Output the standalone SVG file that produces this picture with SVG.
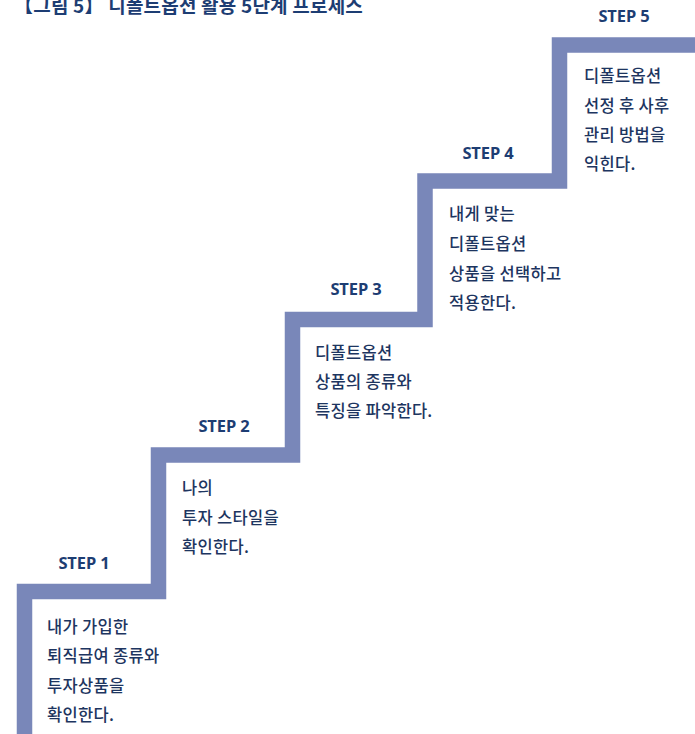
<svg xmlns="http://www.w3.org/2000/svg" width="695" height="734" viewBox="0 0 695 734">
<style>
.title{font-family:"Noto Sans CJK KR","Noto Sans",sans-serif;font-weight:700;font-size:19px;fill:#1d3d73;letter-spacing:0.2px}
.step{font-family:"Noto Sans","Noto Sans CJK KR",sans-serif;font-weight:700;font-size:16.5px;fill:#1d3d73;text-anchor:middle;letter-spacing:-0.1px}
.body{font-family:"Noto Sans CJK KR","Noto Sans",sans-serif;font-weight:500;font-size:16.5px;fill:#1d3560;letter-spacing:0.3px}
.stair{fill:none;stroke:#7987b9;stroke-width:15.5;stroke-linejoin:miter}
</style>
<rect width="695" height="734" fill="#ffffff"/>
<text class="title" x="14" y="13">【그림 5】 디폴트옵션 활용 5단계 프로세스</text>
<g id="connectors">
<path class="stair" d="M24.5 734 V591.5 H158.5 V455 H292.5 V319.5 H425 V181 H559.5 V45 H695"/>
</g>
<g id="step1">
<text class="step" x="84" y="569">STEP 1</text>
<text class="body" x="47" y="633">내가 가입한</text>
<text class="body" x="47" y="662">퇴직급여 종류와</text>
<text class="body" x="47" y="692">투자상품을</text>
<text class="body" x="47" y="721">확인한다.</text>
</g>
<g id="step2">
<text class="step" x="224" y="432">STEP 2</text>
<text class="body" x="182" y="494">나의</text>
<text class="body" x="182" y="524">투자 스타일을</text>
<text class="body" x="182" y="553">확인한다.</text>
</g>
<g id="step3">
<text class="step" x="356" y="295">STEP 3</text>
<text class="body" x="315" y="359">디폴트옵션</text>
<text class="body" x="315" y="388">상품의 종류와</text>
<text class="body" x="315" y="417">특징을 파악한다.</text>
</g>
<g id="step4">
<text class="step" x="488" y="159">STEP 4</text>
<text class="body" x="449" y="220">내게 맞는</text>
<text class="body" x="449" y="250">디폴트옵션</text>
<text class="body" x="449" y="280">상품을 선택하고</text>
<text class="body" x="449" y="309">적용한다.</text>
</g>
<g id="step5">
<text class="step" x="624" y="22">STEP 5</text>
<text class="body" x="584" y="82">디폴트옵션</text>
<text class="body" x="584" y="112">선정 후 사후</text>
<text class="body" x="584" y="141">관리 방법을</text>
<text class="body" x="584" y="170">익힌다.</text>
</g>
</svg>
